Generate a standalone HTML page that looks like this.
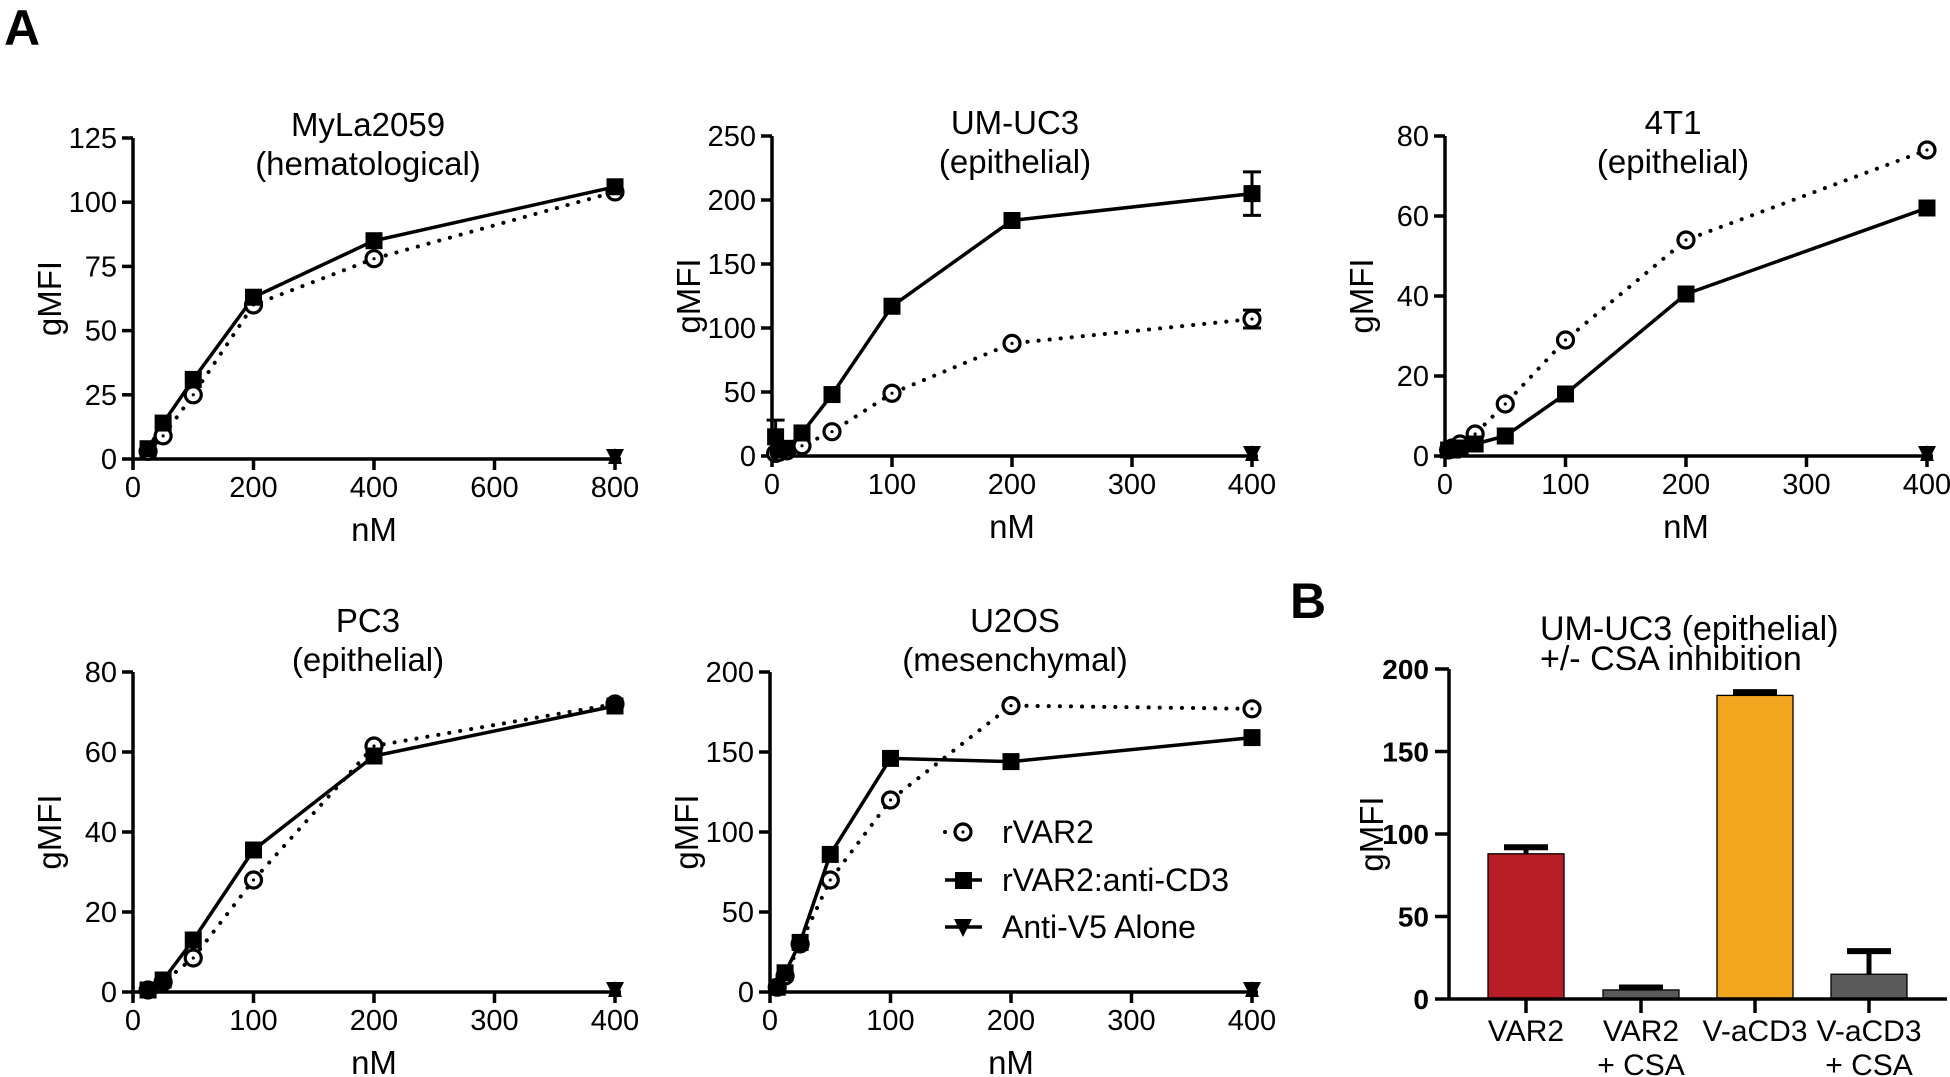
<!DOCTYPE html>
<html><head><meta charset="utf-8"><style>
html,body{margin:0;padding:0;background:#fff;}
svg{display:block;font-family:"Liberation Sans",Arial,sans-serif;}
</style></head><body>
<svg id="s" width="1950" height="1077" viewBox="0 0 1950 1077" xmlns="http://www.w3.org/2000/svg">
<text x="4" y="45" font-size="50" font-weight="bold">A</text>
<text x="1290" y="618" font-size="50" font-weight="bold">B</text>
<g stroke="#000" stroke-width="3.5" fill="none" id="g"></g>
<g id="t"></g>
</svg>
<script>
const NS="http://www.w3.org/2000/svg";
const G=document.getElementById('g'),T=document.getElementById('t');
function el(p,tag,a,txt){const e=document.createElementNS(NS,tag);for(const k in a)e.setAttribute(k,a[k]);if(txt!=null)e.textContent=txt;p.appendChild(e);return e;}
function line(x1,y1,x2,y2,o){return el(G,'line',Object.assign({x1,y1,x2,y2},o||{}));}
function text(x,y,s,o){return el(T,'text',Object.assign({x,y,'font-size':29,'text-anchor':'middle'},o||{}),s);}
function circ(x,y){el(G,'circle',{cx:x,cy:y,r:8,fill:'#fff','stroke-width':3.2});el(G,'circle',{cx:x,cy:y,r:1.6,fill:'#000',stroke:'none'});}
function panel(P){
 const {x0,y0,x1,y1,xmax,ymax,xt,yt,title1,title2,data,tx}=P;
 const ty0=P.ty||0;
 const X=v=>x0+(x1-x0)*v/xmax, Y=v=>y0-(y0-y1)*v/ymax;
 line(x0,y0,x1+6,y0);line(x0,y0,x0,y1);
 xt.forEach(v=>{line(X(v),y0,X(v),y0+11);text(X(v),y0+38,v);});
 yt.forEach(v=>{line(x0-11,Y(v),x0,Y(v));text(x0-16,Y(v)+10,v,{'text-anchor':'end'});});
 text((x0+x1)/2,y0+82,'nM',{'font-size':33});
 const gx=x0-83,gy=(y0+y1)/2;
 text(gx,gy,'gMFI',{'font-size':33,transform:`rotate(-90 ${gx} ${gy})`,dy:11});
 text(tx,y1-2+ty0,title1,{'font-size':33});
 text(tx,y1+37+ty0,title2,{'font-size':33});
 const o=data.o, f=data.f;
 el(G,'polyline',{points:o.map(p=>X(p[0])+','+Y(p[1])).join(' '),'stroke-dasharray':'0.1 11','stroke-linecap':'round','stroke-width':4});
 el(G,'polyline',{points:f.map(p=>X(p[0])+','+Y(p[1])).join(' ')});
 if(data.e)data.e.forEach(e=>{line(X(e[0]),Y(e[1]),X(e[0]),Y(e[2]),{'stroke-width':3});[e[1],e[2]].forEach(v=>line(X(e[0])-9,Y(v),X(e[0])+9,Y(v),{'stroke-width':3}));});
 o.forEach(p=>circ(X(p[0]),Y(p[1])));
 f.forEach(p=>el(G,'rect',{x:X(p[0])-8.5,y:Y(p[1])-8.5,width:17,height:17,fill:'#000',stroke:'none'}));
 const tx2=X(xmax),ty=Y(0);
 el(G,'polygon',{points:`${tx2-9},${ty-10} ${tx2+9},${ty-10} ${tx2},${ty+8}`,fill:'#000',stroke:'none'});
 el(G,'polygon',{points:`${tx2-7},${ty+5} ${tx2+7},${ty+5} ${tx2},${ty-11}`,fill:'#000',stroke:'none'});
}
panel({x0:133,y0:459,x1:615,y1:138,xmax:800,ymax:125,xt:[0,200,400,600,800],yt:[0,25,50,75,100,125],title1:'MyLa2059',title2:'(hematological)',tx:368,
 data:{o:[[25,3],[50,9],[100,25],[200,60],[400,78],[800,104]],f:[[25,4],[50,14],[100,31],[200,63],[400,85],[800,106]]}});
panel({x0:772,y0:456,x1:1252,y1:136,xmax:400,ymax:250,xt:[0,100,200,300,400],yt:[0,50,100,150,200,250],title1:'UM-UC3',title2:'(epithelial)',tx:1015,
 data:{o:[[3,2],[6,3],[12.5,4],[25,8],[50,19],[100,49],[200,88],[400,107]],f:[[3,15],[6,5],[12.5,6],[25,18],[50,48],[100,117],[200,184],[400,205]],e:[[400,188,222],[400,100,114],[3,0,28]]}});
panel({x0:1445,y0:456,x1:1927,y1:136,xmax:400,ymax:80,xt:[0,100,200,300,400],yt:[0,20,40,60,80],title1:'4T1',title2:'(epithelial)',tx:1673,
 data:{o:[[3,1.5],[6,2],[12.5,3],[25,5.5],[50,13],[100,29],[200,54],[400,76.5]],f:[[3,1.5],[6,1.5],[12.5,2],[25,3],[50,5],[100,15.5],[200,40.5],[400,62]]}});
panel({x0:133,y0:992,x1:615,y1:672,xmax:400,ymax:80,xt:[0,100,200,300,400],yt:[0,20,40,60,80],title1:'PC3',title2:'(epithelial)',tx:368,ty:-38,
 data:{o:[[12.5,0.5],[25,2.5],[50,8.5],[100,28],[200,61.5],[400,72]],f:[[12.5,0.5],[25,3],[50,13],[100,35.5],[200,59],[400,71.5]]}});
panel({x0:770,y0:992,x1:1252,y1:672,xmax:400,ymax:200,xt:[0,100,200,300,400],yt:[0,50,100,150,200],title1:'U2OS',title2:'(mesenchymal)',tx:1015,ty:-38,
 data:{o:[[6,3],[12.5,10],[25,30],[50,70],[100,120],[200,179],[400,177]],f:[[6,3],[12.5,12],[25,31],[50,86],[100,146],[200,144],[400,159]]}});
// legend
line(945,832,950,832,{'stroke-dasharray':'0.1 11','stroke-linecap':'round','stroke-width':4});
circ(963,832);
line(945,880,982,880);el(G,'rect',{x:955,y:872,width:17,height:17,fill:'#000',stroke:'none'});
line(945,927,982,927);el(G,'polygon',{points:'954,919 972,919 963,937',fill:'#000',stroke:'none'});
text(1002,843,'rVAR2',{'font-size':32,'text-anchor':'start'});
text(1002,891,'rVAR2:anti-CD3',{'font-size':32,'text-anchor':'start'});
text(1002,938,'Anti-V5 Alone',{'font-size':32,'text-anchor':'start'});
// panel B
const bx0=1449,by0=999,by1=669,bx1=1947,BY=v=>by0-(by0-by1)*v/200;
text(1540,640,'UM-UC3 (epithelial)',{'font-size':34,'text-anchor':'start'});
text(1540,670,'+/- CSA inhibition',{'font-size':34,'text-anchor':'start'});
const bars=[[1526,88,92,'#b81e25'],[1641,5.5,7,'#5a5a5a'],[1755,184,186,'#f2a51e'],[1869,15,29,'#5a5a5a']];
bars.forEach(b=>{line(b[0],BY(b[1]),b[0],BY(b[2]),{'stroke-width':5});line(b[0]-22,BY(b[2]),b[0]+22,BY(b[2]),{'stroke-width':6});
 el(G,'rect',{x:b[0]-38,y:BY(b[1]),width:76,height:by0-BY(b[1]),fill:b[3],'stroke-width':1.3});});
line(bx0,by0,bx1,by0);line(bx0,by0,bx0,by1);
[0,50,100,150,200].forEach(v=>{line(bx0-14,BY(v),bx0,BY(v));text(bx0-20,BY(v)+10,v,{'font-size':28,'font-weight':'bold','text-anchor':'end'});});
text(1372,834,'gMFI',{'font-size':33,transform:'rotate(-90 1372 834)',dy:11});
[['VAR2',''],['VAR2','+ CSA'],['V-aCD3',''],['V-aCD3','+ CSA']].forEach((l,i)=>{const x=bars[i][0];line(x,by0,x,by0+14);text(x,by0+42,l[0],{'font-size':30});if(l[1])text(x,by0+76,l[1],{'font-size':30});});
</script>
</body></html>
